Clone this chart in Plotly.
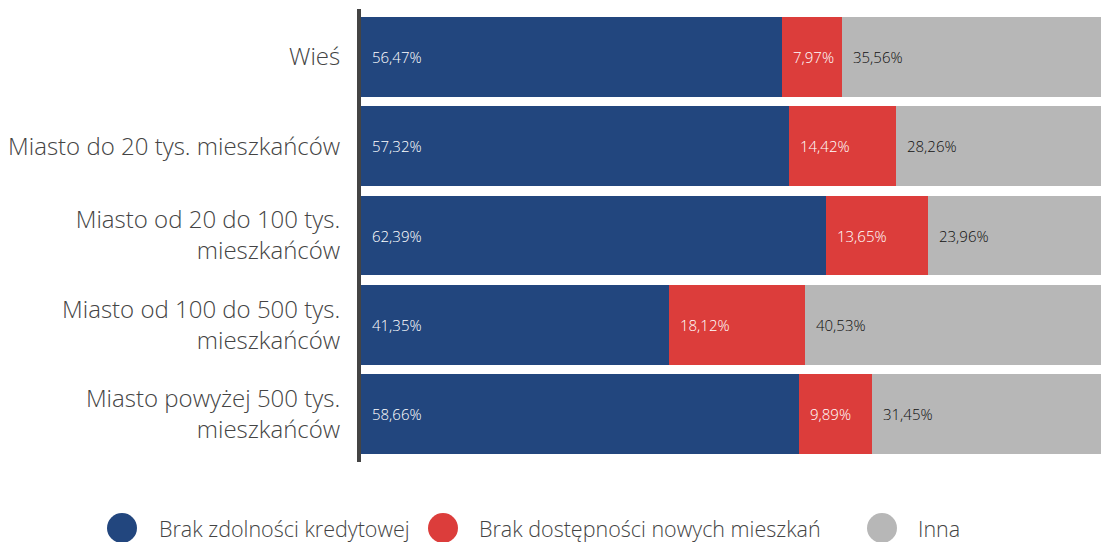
import plotly.graph_objects as go

categories = [
    "Wieś",
    "Miasto do 20 tys. mieszkańców",
    "Miasto od 20 do 100 tys.<br>mieszkańców",
    "Miasto od 100 do 500 tys.<br>mieszkańców",
    "Miasto powyżej 500 tys.<br>mieszkańców",
]
series_names = ["Brak zdolności kredytowej", "Brak dostępności nowych mieszkań", "Inna"]
brak_zdolnosci = [56.47, 57.32, 62.39, 41.35, 58.66]
brak_dostepnosci = [7.97, 14.42, 13.65, 18.12, 9.89]
inna = [35.56, 28.26, 23.96, 40.53, 31.45]

colors = ["#22467E", "#DC3D3B", "#B7B7B7"]
label_colors = ["#FFFFFF", "#FFFFFF", "#111111"]
FONT = "Open Sans"

series = [brak_zdolnosci, brak_dostepnosci, inna]

fig = go.Figure()
for name, vals, col in zip(series_names, series, colors):
    fig.add_trace(go.Bar(
        y=categories, x=vals, name=name, orientation="h",
        marker=dict(color=col, line=dict(width=0)),
        showlegend=False, hoverinfo="x+name",
    ))

annotations = []
# value labels at the start of each segment
for i, cat in enumerate(categories):
    start = 0.0
    for vals, lc in zip(series, label_colors):
        v = vals[i]
        annotations.append(dict(
            x=start, y=cat, xref="x", yref="y",
            text=f"{v:.2f}".replace(".", ",") + "%",
            showarrow=False, xanchor="left", yanchor="middle", xshift=9,
            font=dict(family=FONT, size=15, color=lc, weight=300),
        ))
        start += v

# manual legend (large circles)
shapes = []
legend_circle_px = [122, 443, 882]
legend_text_px = [157, 477, 916]
plot_l, plot_w = 361, 740
for name, col, cx, tx in zip(series_names, colors, legend_circle_px, legend_text_px):
    shapes.append(dict(
        type="circle", xref="paper", yref="paper",
        xsizemode="pixel", ysizemode="pixel",
        xanchor=(cx - plot_l) / plot_w, yanchor=0,
        x0=-15, x1=15, y0=-81, y1=-51,
        fillcolor=col, line=dict(width=0),
    ))
    annotations.append(dict(
        x=(tx - plot_l) / plot_w, y=0, xref="paper", yref="paper",
        yshift=-66, xanchor="left", yanchor="middle", showarrow=False,
        text=name, font=dict(family=FONT, size=21.5, color="#444444", weight=300),
    ))

fig.update_layout(
    barmode="stack",
    bargap=0.104,
    width=1101, height=542,
    margin=dict(l=361, r=0, t=9, b=80, pad=0),
    paper_bgcolor="white", plot_bgcolor="white",
    separators=", ",
    font=dict(family=FONT, color="#444444"),
    xaxis=dict(range=[0, 99.2], showgrid=False, zeroline=False,
               showticklabels=False, showline=False, fixedrange=True),
    yaxis=dict(type="category", range=[4.538, -0.538], showgrid=False,
               zeroline=False, showline=True, linecolor="#444444", linewidth=4,
               ticks="", ticklabelstandoff=12, fixedrange=True,
               tickfont=dict(family=FONT, size=24, color="#444444", weight=300)),
    shapes=shapes,
    annotations=annotations,
)

fig.write_html(
    "out.html",
    config={"displayModeBar": False},
    post_script="document.body.style.margin='0';document.body.style.overflow='hidden';",
)
